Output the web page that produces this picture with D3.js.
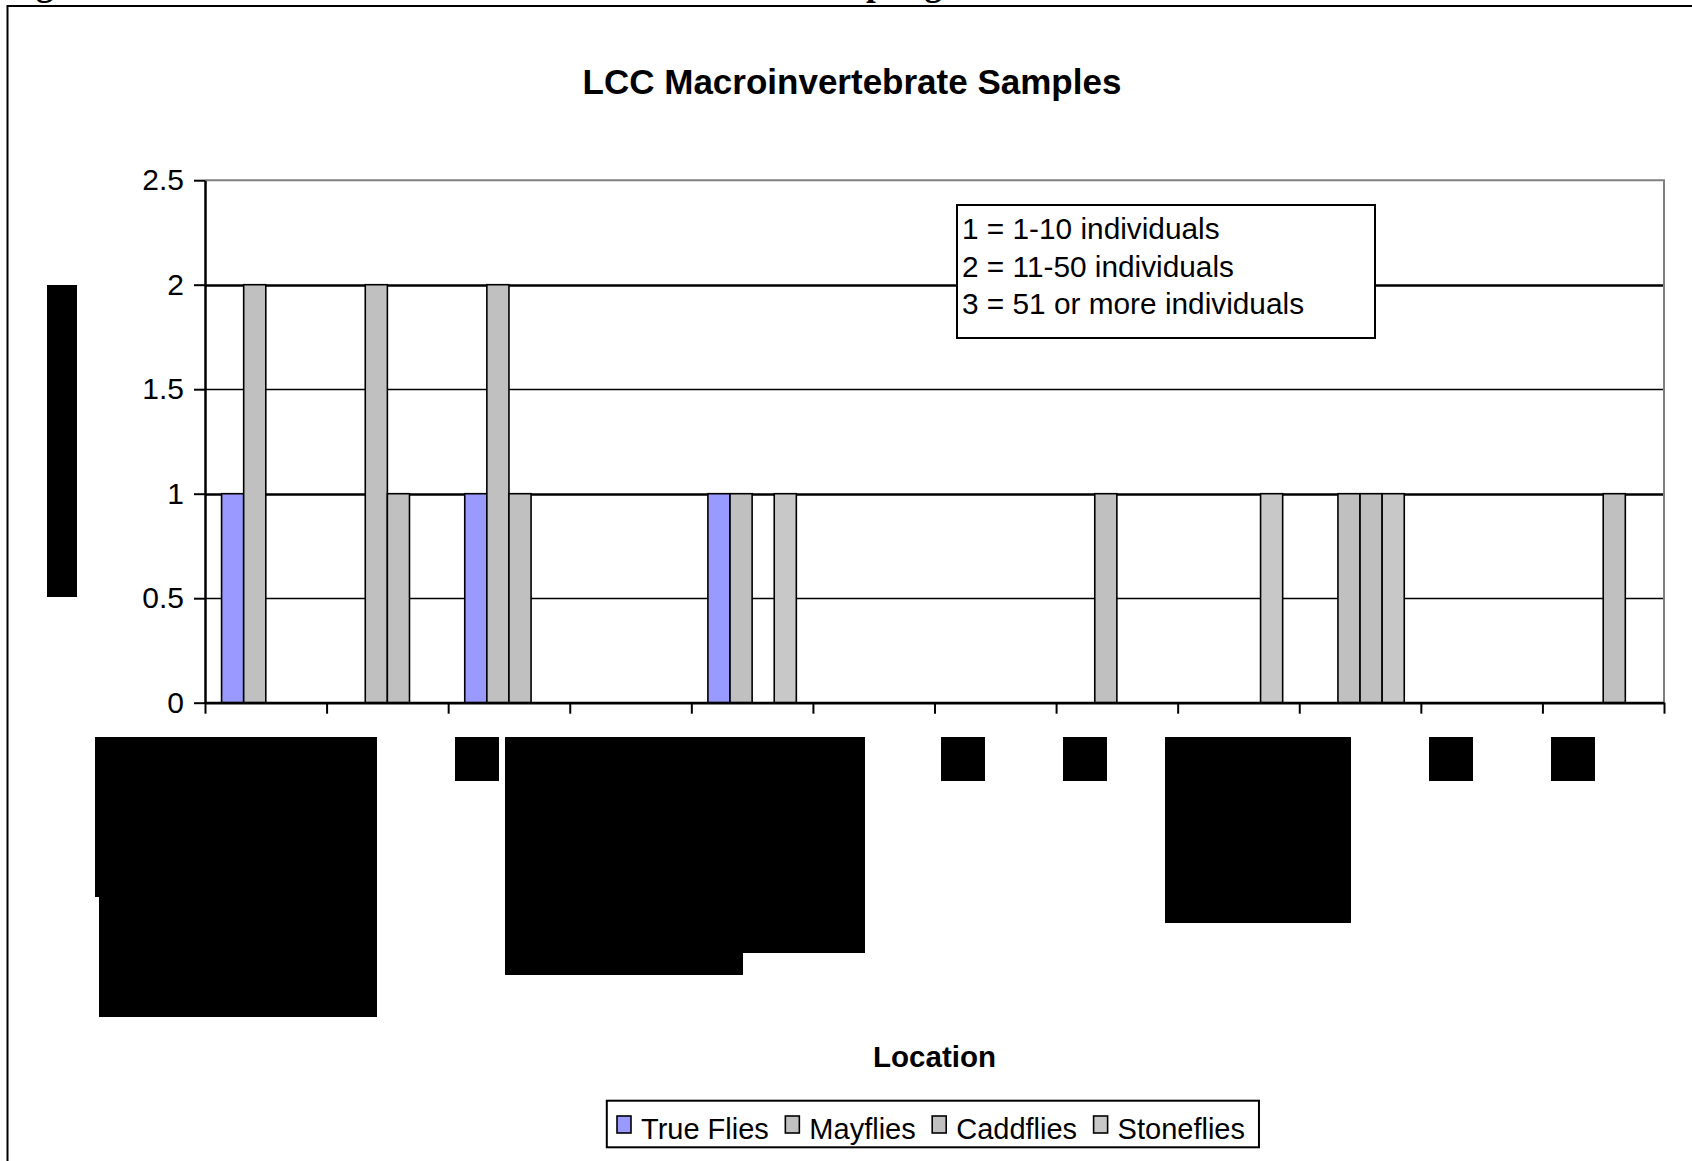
<!DOCTYPE html>
<html lang="en">
<head>
  <meta charset="UTF-8">
  <title>LCC Macroinvertebrate Samples</title>
  <style>
    body { margin: 0; background: #fff; }
    svg { display: block; }
    text { font-family: "Liberation Sans", Arial, sans-serif; fill: #000; }
    .axis text { font-size: 30px; }
    .caption { font-family: "Liberation Serif", "Times New Roman", serif; font-weight: bold; font-size: 35px; }
  </style>
</head>
<body>
  <svg id="chart"></svg>

  <script src="https://d3js.org/d3.v7.min.js"></script>
  <script>
    // Data (category names are blacked out in the source picture)
    const categories = ["Site 1", "Site 2", "Site 3", "Site 4", "Site 5", "Site 6",
                        "Site 7", "Site 8", "Site 9", "Site 10", "Site 11", "Site 12"];
    const seriesNames = ["True Flies", "Mayflies", "Caddflies", "Stoneflies"];
    const trueFlies  = [1, 0, 1, 0, 1, 0, 0, 0, 0, 0, 0, 0];
    const mayflies   = [2, 2, 2, 0, 1, 0, 0, 1, 0, 1, 0, 0];
    const caddflies  = [0, 1, 1, 0, 0, 0, 0, 0, 0, 1, 0, 1];
    const stoneflies = [0, 0, 0, 0, 1, 0, 0, 0, 1, 1, 0, 0];
    const yTicks = [0, 0.5, 1, 1.5, 2, 2.5];
    const noteLines = ["1 = 1-10 individuals", "2 = 11-50 individuals", "3 = 51 or more individuals"];

    const colors = ["#9999FF", "#C0C0C0", "#C0C0C0", "#C8C8C8"];
    const seriesValues = [trueFlies, mayflies, caddflies, stoneflies];

    // blacked-out label areas in the source picture [x0, y0, x1, y1]
    const redactions = [
      [47, 285, 77, 597],
      [95, 737, 377, 897], [99, 896, 377, 1017],
      [455, 737, 499, 781],
      [505, 737, 865, 953], [505, 952, 743, 975],
      [941, 737, 985, 781], [1063, 737, 1107, 781],
      [1165, 737, 1351, 923],
      [1429, 737, 1473, 781], [1551, 737, 1595, 781]
    ];

    const W = 1692, H = 1161;
    const plot = { left: 205, right: 1664, top: 180.2, bottom: 702.7 };

    const svg = d3.select("#chart").attr("width", W).attr("height", H);

    // cut-off caption above the chart frame (only descenders show in the source)
    svg.append("text").attr("class", "caption").attr("x", 5).attr("y", -5).text("Figure");
    svg.append("text").attr("class", "caption").attr("x", 800).attr("y", -5).text("Sampling");

    // chart frame
    svg.append("path")
      .attr("d", `M7.5,${H} V6 H${W}`)
      .attr("fill", "none").attr("stroke", "#000").attr("stroke-width", 2);

    // scales
    const x = d3.scaleBand().domain(categories).range([plot.left, plot.right]);
    const x1 = d3.scaleBand().domain(seriesNames).range([0, x.bandwidth()])
      .paddingInner(0).paddingOuter(0.75);
    const y = d3.scaleLinear().domain([0, 2.5]).range([plot.bottom, plot.top]);
    const xEdge = d3.scaleLinear().domain([0, categories.length]).range([plot.left, plot.right]);

    // gridlines
    svg.append("g").selectAll("line")
      .data(yTicks.filter(t => t > 0 && t < 2.5))
      .join("line")
      .attr("x1", plot.left).attr("x2", plot.right)
      .attr("y1", d => Math.round(y(d)) + 0.5).attr("y2", d => Math.round(y(d)) + 0.5)
      .attr("stroke", "#000")
      .attr("stroke-width", d => Number.isInteger(d) ? 2.4 : 1.4);

    // plot area border (top / right)
    svg.append("path")
      .attr("d", `M${plot.left},${y(2.5)} H${plot.right} V${plot.bottom}`)
      .attr("fill", "none").attr("stroke", "#808080").attr("stroke-width", 2);

    // bars
    const rows = [];
    categories.forEach((c, i) => {
      seriesNames.forEach((s, j) => {
        if (seriesValues[j][i] > 0) rows.push({ cat: c, series: s, value: seriesValues[j][i], color: colors[j] });
      });
    });

    svg.append("g").selectAll("rect")
      .data(rows)
      .join("rect")
      .attr("x", d => x(d.cat) + x1(d.series))
      .attr("y", d => y(d.value))
      .attr("width", x1.bandwidth())
      .attr("height", d => y(0) - y(d.value))
      .attr("fill", d => d.color)
      .attr("stroke", "#000")
      .attr("stroke-width", 1.6);

    // y axis
    const yAxis = svg.append("g")
      .attr("class", "axis")
      .attr("transform", `translate(${plot.left},0)`)
      .call(d3.axisLeft(y).tickValues(yTicks).tickFormat(d3.format("")).tickSize(11).tickSizeOuter(0).tickPadding(10));
    yAxis.select(".domain").attr("stroke-width", 2.5);
    yAxis.selectAll(".tick line").attr("stroke-width", 2);
    yAxis.selectAll("text").attr("font-family", null);

    // x axis (ticks between categories)
    const xAxis = svg.append("g")
      .attr("class", "axis")
      .attr("transform", `translate(0,${plot.bottom})`)
      .call(d3.axisBottom(xEdge).tickValues(d3.range(categories.length + 1)).tickFormat("").tickSize(11).tickSizeOuter(0));
    xAxis.select(".domain").attr("stroke-width", 2.7);
    xAxis.selectAll(".tick line").attr("stroke-width", 2);

    // note box
    svg.append("rect")
      .attr("x", 957).attr("y", 205).attr("width", 418).attr("height", 133)
      .attr("fill", "#fff").attr("stroke", "#000").attr("stroke-width", 2);
    svg.append("g").selectAll("text")
      .data(noteLines)
      .join("text")
      .attr("x", 962)
      .attr("y", (d, i) => 239.3 + i * 37.5)
      .attr("font-size", 29.8)
      .text(d => d);

    // titles
    svg.append("text")
      .attr("x", 852).attr("y", 94)
      .attr("text-anchor", "middle")
      .attr("font-weight", "bold").attr("font-size", 35)
      .text("LCC Macroinvertebrate Samples");

    svg.append("text")
      .attr("x", (plot.left + plot.right) / 2).attr("y", 1067)
      .attr("text-anchor", "middle")
      .attr("font-weight", "bold").attr("font-size", 29.5)
      .text("Location");

    // legend
    const legend = svg.append("g");
    const legendBox = legend.append("rect")
      .attr("fill", "#fff").attr("stroke", "#000").attr("stroke-width", 2);
    let lx = 617;
    seriesNames.forEach((s, j) => {
      legend.append("rect")
        .attr("x", lx).attr("y", 1116).attr("width", 14).attr("height", 17)
        .attr("fill", colors[j]).attr("stroke", "#000").attr("stroke-width", 1.6);
      const t = legend.append("text")
        .attr("x", lx + 24).attr("y", 1139)
        .attr("font-size", 29)
        .text(s);
      lx += 24 + t.node().getComputedTextLength() + 16.5;
    });
    legendBox.attr("x", 606.8).attr("y", 1100.7)
      .attr("width", lx - 16.5 + 14 - 606.8).attr("height", 46.6);

    // redaction blocks
    svg.append("g").selectAll("rect")
      .data(redactions)
      .join("rect")
      .attr("x", d => d[0]).attr("y", d => d[1])
      .attr("width", d => d[2] - d[0]).attr("height", d => d[3] - d[1])
      .attr("fill", "#000");
  </script>
</body>
</html>
